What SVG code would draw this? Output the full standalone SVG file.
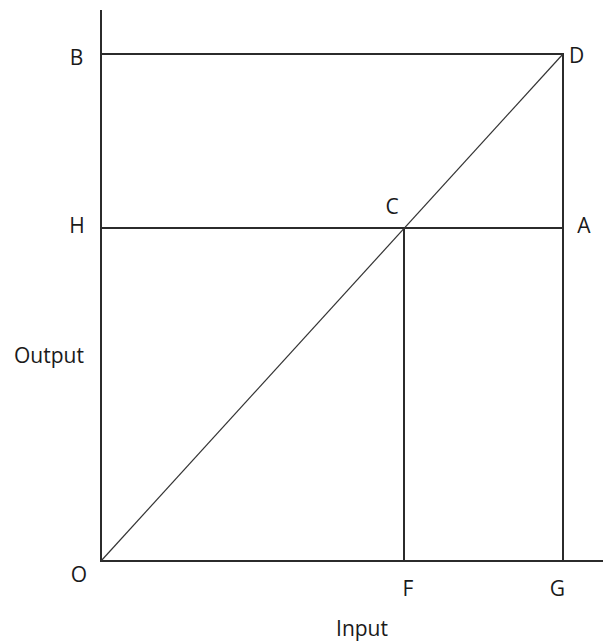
<svg xmlns="http://www.w3.org/2000/svg" width="603" height="644" viewBox="0 0 603 644">
<style>
.ln{stroke:#2b2b2b;stroke-width:2;fill:none}
.dg{stroke:#333;stroke-width:1.2;fill:none}
.lb{font-family:"Open Sans","Liberation Sans",sans-serif;font-size:21px;fill:#1a1a1a;text-anchor:middle}
</style>
<rect width="603" height="644" fill="#fff"/>
<g id="connectors">
<line class="ln" x1="101" y1="10" x2="101" y2="562"/>
<line class="ln" x1="100" y1="561" x2="603" y2="561"/>
<line class="ln" x1="101" y1="54" x2="564" y2="54"/>
<line class="ln" x1="563" y1="53" x2="563" y2="561"/>
<line class="ln" x1="101" y1="228" x2="563" y2="228"/>
<line class="ln" x1="404" y1="228" x2="404" y2="561"/>
<line class="dg" x1="101" y1="561" x2="563" y2="54"/>
</g>
<g id="B"><text class="lb" x="76.5" y="65">B</text></g>
<g id="D"><text class="lb" x="576.5" y="63">D</text></g>
<g id="C"><text class="lb" x="392" y="214">C</text></g>
<g id="H"><text class="lb" x="77" y="233">H</text></g>
<g id="A"><text class="lb" x="584" y="233">A</text></g>
<g id="Output"><text class="lb" x="49" y="363">Output</text></g>
<g id="O"><text class="lb" x="79" y="582">O</text></g>
<g id="F"><text class="lb" x="408" y="596">F</text></g>
<g id="G"><text class="lb" x="557.5" y="596">G</text></g>
<g id="Input"><text class="lb" x="362" y="636">Input</text></g>
</svg>
